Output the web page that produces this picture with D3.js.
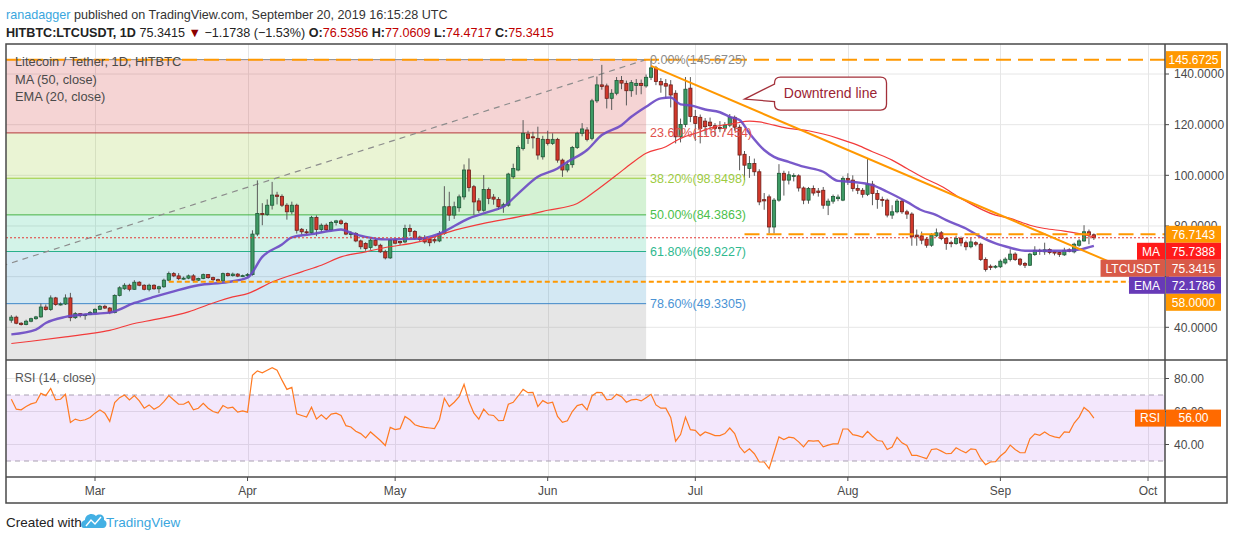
<!DOCTYPE html>
<html>
<head>
<meta charset="utf-8">
<script src="https://cdn.jsdelivr.net/npm/d3@7"></script>
<style>
  body { margin: 0; background: #fff; }
  svg { display: block; font-family: "Liberation Sans", Arial, sans-serif; }
</style>
</head>
<body>
<svg id="chart" width="1234" height="540"></svg>
<script>
// ---- data ----
const firstDay = "2019-02-12";
// daily candles [open, high, low, close], Feb 12 .. Sep 20 2019
const ohlc = [
  // Feb
  [42.8,44.8,41.8,44.0],[44.0,44.6,41.2,41.6],[41.6,42.0,40.7,41.1],[41.1,43.0,40.8,42.4],[42.4,43.8,42.0,43.4],
  [43.4,44.5,43.0,44.1],[44.1,49.4,43.8,48.0],[48.0,49.0,46.6,47.0],[47.0,52.6,46.5,51.6],[51.6,52.0,48.5,49.0],
  [49.0,49.8,48.6,49.2],[49.2,53.0,48.8,51.6],[51.6,53.6,42.4,43.8],[43.8,46.0,43.3,45.4],[45.4,45.6,43.9,44.6],
  [44.6,45.4,43.0,45.0],[45.0,46.4,44.8,45.8],
  // Mar
  [45.8,47.5,45.3,47.1],[47.1,48.8,46.8,48.3],[48.3,48.9,47.2,47.6],[47.6,48.0,45.2,45.8],[45.8,53.0,45.5,52.6],
  [52.6,56.2,52.2,55.6],[55.2,57.4,54.8,56.6],[56.6,57.2,54.2,55.0],[55.0,58.6,54.8,57.8],[57.8,58.2,56.2,56.6],
  [56.6,57.0,54.6,55.0],[55.0,57.2,54.2,56.6],[56.6,57.0,54.8,55.2],[55.2,56.4,53.5,56.0],[56.0,59.2,55.6,58.6],
  [58.6,62.0,58.2,61.2],[61.2,61.8,59.8,60.3],[60.3,61.4,58.6,59.2],[59.2,60.0,58.8,59.4],[59.4,60.8,59.0,60.3],
  [60.3,61.0,57.8,58.6],[58.6,59.6,58.2,59.3],[59.3,61.2,59.0,60.8],[60.8,61.0,59.2,59.6],[59.6,60.0,58.2,58.8],
  [58.8,59.2,57.8,58.3],[58.3,61.6,58.0,61.2],[61.2,61.6,60.0,60.4],[60.4,61.6,60.0,61.0],[61.0,61.4,59.8,60.2],
  [60.2,60.8,59.8,60.4],
  // Apr
  [60.4,61.4,59.8,60.8],[60.8,78.3,60.4,76.8],[76.8,98.0,76.0,84.9],[84.9,89.0,80.3,84.5],[84.5,90.5,84.0,88.2],
  [88.2,97.4,86.5,92.2],[92.2,93.5,88.5,91.7],[91.7,92.5,87.5,88.2],[88.2,89.0,82.5,85.6],[85.6,89.6,84.6,88.2],
  [88.2,88.8,77.0,78.3],[78.7,79.2,76.6,77.7],[77.7,78.8,76.8,77.3],[77.3,84.0,76.8,83.4],[83.4,84.2,76.0,78.6],
  [78.6,81.0,77.6,80.3],[80.3,81.0,78.0,78.5],[78.5,82.0,78.2,81.4],[81.4,82.4,80.2,82.0],[82.0,82.6,80.4,81.0],
  [81.0,81.6,76.4,76.8],[76.8,78.0,75.6,77.0],[77.0,77.6,73.6,74.1],[74.1,74.6,70.8,71.8],[73.1,73.6,70.2,71.1],
  [71.5,75.0,70.6,74.4],[74.4,74.8,72.0,72.4],[72.4,73.0,69.4,69.8],[69.8,70.6,66.8,67.4],[67.4,74.8,67.0,74.4],
  // May
  [74.4,75.0,72.8,73.2],[73.9,74.2,72.4,73.4],[73.7,80.5,73.2,79.0],[79.0,80.6,76.0,77.8],[77.8,78.4,74.6,75.2],
  [75.6,76.2,73.8,74.7],[75.0,76.4,73.0,73.7],[74.8,75.2,72.0,73.4],[74.6,75.2,73.2,74.1],[74.1,78.0,73.6,77.0],
  [77.0,95.7,76.5,87.6],[87.6,93.5,82.0,84.3],[84.3,89.6,82.8,87.6],[87.2,92.4,85.6,91.5],[91.5,104.3,90.4,102.1],
  [102.1,106.7,93.6,95.2],[95.5,96.2,84.3,89.5],[89.9,91.0,85.2,86.2],[86.2,100.1,85.6,94.4],[94.4,95.2,88.6,90.9],
  [91.4,92.6,88.4,90.6],[90.5,91.4,86.4,87.6],[87.6,89.2,85.2,88.4],[88.2,101.0,87.6,100.5],[99.4,104.6,98.6,102.7],
  [102.1,111.8,101.6,111.0],[110.6,121.8,109.8,116.6],[116.3,117.6,112.4,114.6],[115.2,117.2,110.6,115.0],[114.6,119.2,106.2,108.0],
  [107.3,115.6,106.2,114.2],
  // Jun
  [114.2,117.6,111.8,112.6],[112.6,116.6,112.0,114.2],[114.2,114.8,105.0,106.0],[106.0,106.6,99.4,102.1],[102.1,105.8,101.2,104.2],
  [104.2,111.6,103.0,111.0],[111.0,117.2,110.4,116.6],[116.6,120.6,115.4,118.3],[117.9,119.0,113.4,114.2],[114.6,130.2,113.8,129.4],
  [129.4,139.0,128.6,135.7],[135.7,143.6,133.8,135.1],[135.3,136.2,126.4,130.4],[130.4,134.0,125.8,132.4],[132.4,138.8,131.6,137.4],
  [137.4,139.2,134.0,136.4],[136.3,137.4,127.6,133.4],[133.4,137.6,131.0,136.6],[135.5,138.0,131.8,136.3],[136.3,137.8,132.0,135.5],
  [135.3,139.8,134.6,138.7],[138.7,145.67,137.6,142.4],[142.4,143.2,135.6,137.0],[137.0,138.4,132.6,135.7],[136.2,138.0,130.4,135.2],
  [135.7,137.6,126.8,131.7],[132.4,133.6,112.6,115.2],[115.2,122.4,113.0,120.1],[120.1,138.8,119.0,134.0],[134.4,138.8,121.0,123.2],
  // Jul
  [123.2,125.8,113.6,120.5],[122.9,124.0,112.6,118.5],[121.4,122.6,116.0,119.2],[121.0,122.8,117.8,119.6],[119.6,120.6,115.6,118.5],
  [118.9,121.4,117.0,118.4],[118.5,121.0,117.2,119.8],[119.8,124.2,119.0,122.9],[122.9,123.6,117.6,119.0],[119.0,120.0,102.0,108.0],
  [108.3,109.6,98.1,104.0],[102.7,107.6,99.0,104.7],[104.7,106.6,99.8,101.4],[101.4,102.4,88.2,89.5],[90.4,93.0,86.4,89.9],
  [91.5,92.4,77.0,79.6],[79.6,91.0,77.0,90.2],[90.2,104.4,89.6,100.8],[100.8,101.8,92.0,98.1],[98.1,101.6,96.4,100.2],
  [99.8,100.8,97.6,99.9],[99.8,100.4,93.6,95.0],[95.0,95.6,88.6,90.2],[90.2,95.4,88.8,94.8],[94.8,96.0,92.0,93.0],
  [93.8,95.0,91.6,93.2],[94.1,95.4,86.8,88.2],[88.2,90.8,84.3,89.8],[89.8,92.4,88.8,91.6],[90.8,92.4,89.8,91.4],
  [90.2,99.6,89.8,98.8],
  // Aug
  [98.8,100.8,96.2,98.1],[98.1,100.0,93.6,94.8],[94.8,96.4,92.6,94.1],[94.1,95.0,91.2,92.5],[92.5,106.7,91.8,96.5],
  [96.5,97.8,88.2,92.8],[92.8,94.2,86.8,90.5],[90.5,91.6,87.6,90.2],[90.2,90.8,83.4,84.3],[84.3,88.2,82.8,85.6],
  [85.6,90.6,85.0,89.8],[89.8,90.4,84.8,85.6],[85.6,86.4,82.8,84.7],[84.7,85.4,72.2,75.7],[76.4,78.6,72.2,75.8],
  [76.1,77.8,72.8,74.4],[74.8,75.6,71.4,72.4],[72.4,77.2,71.8,76.4],[76.1,79.0,75.6,77.3],[77.3,78.0,74.4,75.1],
  [75.1,75.6,70.6,73.1],[73.4,74.2,71.6,73.1],[73.1,76.2,72.6,75.1],[75.1,75.8,72.0,73.3],[73.4,74.2,70.4,71.8],
  [71.8,75.4,71.2,73.7],[73.4,74.0,72.0,72.8],[72.8,73.4,66.2,66.8],[66.8,67.6,62.0,62.8],[64.1,64.8,62.6,63.6],
  [63.9,64.6,63.2,64.1],
  // Sep
  [63.9,66.8,63.4,66.1],[65.4,67.6,64.8,66.9],[66.8,70.8,66.0,68.9],[68.9,69.6,66.2,66.8],[66.9,67.4,64.2,64.9],
  [65.2,65.8,63.4,64.5],[64.5,69.4,64.2,68.9],[68.7,72.0,68.2,70.4],[70.4,71.0,68.6,70.0],[69.8,73.4,68.6,70.6],
  [70.7,71.2,68.8,69.5],[69.8,70.2,68.4,69.3],[69.5,69.8,67.8,68.8],[68.6,71.4,68.2,70.4],[70.6,71.2,69.6,70.0],
  [69.8,73.4,69.2,72.8],[72.4,74.8,71.8,74.1],[74.1,80.3,73.8,77.7],[77.7,78.6,72.8,76.5356],[76.5356,77.0609,74.4717,75.3415]
];

// RSI(14), one value per candle
const rsi = [
  67.4,61.4,61,63,64.6,65.4,71,69.6,74,67,67.4,70.4,53.4,55.4,54.4,55,56.4,
  59,61,59,54,65.4,68.4,70,67,69.6,66.4,62,64,61.4,63,66,69.6,67,64.4,64.4,66,61,62,65,62,60,59,63.6,62,62.6,59.6,60.4,
  59.6,82,84.6,83.4,85,86.6,85,79,73.4,74.6,58.6,57.6,56.6,62.6,55.4,58,55.4,58.4,59,57.6,51.4,50.6,48,46.6,44,47.6,45,42.4,39.4,50.4,
  49,49.6,57,55,52,51,50.4,50,49.6,55,68,63,65.6,69,76.4,66,59,55.4,61.4,58,57.6,54.4,54.6,64.4,65.6,69.4,73.4,71.4,71.6,63,66.6,
  65,65.6,57,53.4,54.4,60,63.6,64.4,61,69.4,71.6,71.4,67,67.4,70.4,69,65.6,67,67.4,66.4,68.4,70.4,64,62,62,56.4,42,46,56.6,49,
  48.6,45.4,47.6,46.6,45.4,45.4,46.6,50,46.6,38.6,35,37.4,34.4,29.4,29.4,25.4,35,44.6,43,44.4,44,41.6,38.6,42.4,42,42.4,38.6,39.6,40.4,40.4,49.4,
  49.4,46,45.4,44.4,48,45,42.4,42,37,38.4,44.4,41,39.4,33.4,33.4,32.4,31.4,37,37.4,36,34.4,34.6,38,36.4,35,37.4,37,31.4,27.8,29.4,29.6,
  33,35.4,39.6,37,35,35,43.4,46.4,45.6,47.6,45.6,44.6,44,47.6,47.4,53,56.6,62.4,60,56
];

// MA(50) and EMA(20) sampled along the drawn lines
const ma50 = [
  ["2019-02-12",33.6],["2019-02-16",34.5],["2019-02-23",36.2],["2019-02-28",37.5],["2019-03-04",38.8],["2019-03-09",41.5],
  ["2019-03-13",43.0],["2019-03-20",46.1],["2019-03-25",49.6],["2019-03-29",52.0],["2019-04-01",53.3],["2019-04-06",57.9],
  ["2019-04-12",61.9],["2019-04-16",64.5],["2019-04-20",67.8],["2019-04-25",69.8],["2019-04-29",71.5],["2019-05-06",73.8],
  ["2019-05-12",77.7],["2019-05-19",81.0],["2019-05-26",83.6],["2019-06-01",86.2],["2019-06-07",88.9],["2019-06-11",94.2],
  ["2019-06-15",100.1],["2019-06-18",104.7],["2019-06-21",108.7],["2019-06-25",111.3],["2019-06-28",114.6],["2019-07-02",117.2],
  ["2019-07-05",119.2],["2019-07-09",120.5],["2019-07-12",121.4],["2019-07-14",121.1],["2019-07-17",119.8],["2019-07-20",118.5],
  ["2019-07-24",117.6],["2019-07-27",116.3],["2019-07-30",114.6],["2019-08-03",111.9],["2019-08-06",109.3],["2019-08-10",106.0],
  ["2019-08-13",102.7],["2019-08-16",99.4],["2019-08-20",95.7],["2019-08-24",90.9],["2019-08-31",84.3],["2019-09-03",83.0],
  ["2019-09-07",80.3],["2019-09-10",79.0],["2019-09-14",78.0],["2019-09-17",77.0],["2019-09-20",75.7388]
];
const ema20 = [
  ["2019-02-12",37.2],["2019-02-17",39.1],["2019-02-19",41.7],["2019-02-23",44.1],["2019-02-27",45.1],["2019-03-04",45.8],
  ["2019-03-09",49.6],["2019-03-13",52.0],["2019-03-17",54.2],["2019-03-22",56.6],["2019-03-28",57.9],["2019-04-01",59.6],
  ["2019-04-04",67.8],["2019-04-08",72.7],["2019-04-10",75.5],["2019-04-14",76.8],["2019-04-18",78.1],["2019-04-20",78.6],
  ["2019-04-22",77.3],["2019-04-25",75.7],["2019-04-29",74.7],["2019-05-02",74.8],["2019-05-06",75.0],["2019-05-10",77.0],
  ["2019-05-16",83.0],["2019-05-21",86.2],["2019-05-23",87.6],["2019-05-26",92.8],["2019-05-30",99.4],["2019-06-03",102.7],
  ["2019-06-05",105.3],["2019-06-09",110.0],["2019-06-12",115.9],["2019-06-16",119.8],["2019-06-18",123.1],["2019-06-21",127.1],
  ["2019-06-24",130.4],["2019-06-26",130.7],["2019-06-28",128.0],["2019-06-30",127.6],["2019-07-03",126.0],["2019-07-06",124.9],
  ["2019-07-08",123.1],["2019-07-10",121.8],["2019-07-12",116.6],["2019-07-15",110.0],["2019-07-17",107.3],["2019-07-20",105.3],
  ["2019-07-23",103.4],["2019-07-27",101.4],["2019-07-30",97.8],["2019-08-02",97.4],["2019-08-06",96.1],["2019-08-09",93.5],
  ["2019-08-13",89.5],["2019-08-16",86.2],["2019-08-19",84.3],["2019-08-21",82.3],["2019-08-25",79.0],["2019-08-28",75.7],
  ["2019-08-31",73.1],["2019-09-03",71.4],["2019-09-06",70.2],["2019-09-10",70.2],["2019-09-14",70.2],["2019-09-17",70.7],
  ["2019-09-20",72.1786]
];

// Fibonacci retracement
const fibLevels = [0, 0.236, 0.382, 0.5, 0.618, 0.786, 1];
const fibPrices = [145.6725, 116.7454, 98.8498, 84.3863, 69.9227, 49.3305, 23.10];
const fibAnchors = [["2018-12-06", 23.10], ["2019-06-21", 145.6725]];
const fibLineColors = ["#8a8a8a", "#b3383a", "#9ccc3a", "#46b246", "#29b08b", "#3f88c8", "#8a8a8a"];
const fibTextColors = ["#8c8c8c", "#e0504c", "#9dcb3f", "#4cbf4c", "#2fb98f", "#4a93d4", "#8c8c8c"];
const fibFills = ["rgba(205,40,40,0.2)", "rgba(150,200,40,0.2)", "rgba(40,190,40,0.2)",
                  "rgba(35,195,140,0.2)", "rgba(35,140,195,0.2)", "rgba(130,130,130,0.2)"];

// drawings
const downtrend = [["2019-06-22", 143.2], ["2019-09-23", 66.0]];
const levelLines = [
  { from: "2019-01-01", price: 145.6725, dash: "15,7" },
  { from: "2019-07-11", price: 76.7143, dash: "15,7" },
  { from: "2019-03-16", price: 58.0, dash: "5,3" }
];
const callout = { date: "2019-07-11", price: 130.1, text: "Downtrend line" };

// axes
const priceTicks = [140, 120, 100, 80, 60, 40];
const priceLabels = [140, 120, 100, 80, 40];   // 60 sits fully under the badges
const rsiTicks = [80, 60, 40];
const rsiBand = [70, 30];
const monthTicks = ["2019-03-01","2019-04-01","2019-05-01","2019-06-01","2019-07-01","2019-08-01","2019-09-01","2019-10-01"];
const monthNames = ["Mar","Apr","May","Jun","Jul","Aug","Sep","Oct"];

// right-scale badges
const badges = [
  { value: 145.6725, text: "145.6725", color: "#ff9800" },
  { value: 76.7143, text: "76.7143", color: "#ff9800" },
  { value: 75.7388, text: "75.7388", color: "#ff1a1a", tag: "MA" },
  { value: 75.3415, text: "75.3415", color: "#d85a48", tag: "LTCUSDT" },
  { value: 72.1786, text: "72.1786", color: "#673ab7", tag: "EMA" },
  { value: 58.0, text: "58.0000", color: "#ff9800" }
];
const lastClose = 75.3415;
const lastRsi = 56.0;

// ---- layout ----
const L = 6, R = 1165, AX = 1227, T = 44, MB = 360, RB = 477, B = 503;
const parse = d3.utcParse("%Y-%m-%d");
const fmt4 = d3.format(".4f");

const svg = d3.select("#chart");
const x = d3.scaleUtc().domain([parse("2019-03-01"), parse("2019-10-01")]).range([95, 1148]);
const y = d3.scaleLinear().domain([40, 140]).range([327.3, 74]);
const yr = d3.scaleLinear().domain([40, 80]).range([444.5, 378.5]);
const days = ohlc.map((d, i) => d3.utcDay.offset(parse(firstDay), i));

const defs = svg.append("defs");
defs.append("clipPath").attr("id", "clipMain").append("rect").attr("x", L).attr("y", T).attr("width", R - L).attr("height", MB - T);
defs.append("clipPath").attr("id", "clipRsi").append("rect").attr("x", L).attr("y", MB).attr("width", R - L).attr("height", RB - MB);

// header
const h1 = svg.append("text").attr("x", 6).attr("y", 19).attr("font-size", 12.6).attr("fill", "#333");
h1.append("tspan").attr("fill", "#3aa6de").text("ranadagger");
h1.append("tspan").text(" published on TradingView.com, September 20, 2019 16:15:28 UTC");
const h2 = svg.append("text").attr("x", 6).attr("y", 37).attr("font-size", 12.6).attr("fill", "#222");
h2.append("tspan").attr("font-weight", "bold").text("HITBTC:LTCUSDT, 1D");
h2.append("tspan").text(" 75.3415 ");
h2.append("tspan").attr("fill", "#8b0000").text("\u25BC");
h2.append("tspan").text(" \u22121.1738 (\u22121.53%) ");
[["O:", "76.5356"], [" H:", "77.0609"], [" L:", "74.4717"], [" C:", "75.3415"]].forEach(p => {
  h2.append("tspan").attr("font-weight", "bold").text(p[0]);
  h2.append("tspan").attr("fill", "#c00000").text(p[1]);
});

// grid
const grid = svg.append("g").attr("stroke", "#e6e6e6").attr("stroke-width", 1);
monthTicks.forEach(m => {
  const gx = Math.round(x(parse(m))) + 0.5;
  grid.append("line").attr("x1", gx).attr("x2", gx).attr("y1", T).attr("y2", RB);
});
priceTicks.forEach(p => grid.append("line").attr("x1", L).attr("x2", R).attr("y1", y(p)).attr("y2", y(p)));
rsiTicks.forEach(p => grid.append("line").attr("x1", L).attr("x2", R).attr("y1", yr(p)).attr("y2", yr(p)));

// fib retracement
const main = svg.append("g").attr("clip-path", "url(#clipMain)");
const fx0 = x(parse(fibAnchors[0][0])), fx1 = x(parse(fibAnchors[1][0]));
for (let i = 0; i < fibLevels.length - 1; i++) {
  main.append("rect").attr("x", fx0).attr("width", fx1 - fx0)
    .attr("y", y(fibPrices[i])).attr("height", y(fibPrices[i + 1]) - y(fibPrices[i]))
    .attr("fill", fibFills[i]);
}
fibLevels.forEach((lv, i) => {
  main.append("line").attr("x1", fx0).attr("x2", fx1).attr("y1", y(fibPrices[i])).attr("y2", y(fibPrices[i]))
    .attr("stroke", fibLineColors[i]).attr("stroke-width", 1);
});
main.append("line").attr("x1", fx0).attr("y1", y(fibAnchors[0][1])).attr("x2", fx1).attr("y2", y(fibAnchors[1][1]))
  .attr("stroke", "#8c8c8c").attr("stroke-width", 1.2).attr("stroke-dasharray", "6,5");

// legend
const leg = svg.append("g").attr("font-size", 12.8).attr("fill", "#4a4a4a");
leg.append("text").attr("x", 15).attr("y", 66).text("Litecoin / Tether, 1D, HITBTC");
leg.append("text").attr("x", 15).attr("y", 84).text("MA (50, close)");
leg.append("text").attr("x", 15).attr("y", 101).text("EMA (20, close)");

// candles
const cg = main.append("g");
ohlc.forEach((d, i) => {
  const cx = x(days[i]);
  const up = d[3] >= d[0];
  cg.append("line").attr("x1", cx).attr("x2", cx).attr("y1", y(d[1])).attr("y2", y(d[2]))
    .attr("stroke", "#5a5a5a").attr("stroke-width", 1);
  const top = y(Math.max(d[0], d[3])), bot = y(Math.min(d[0], d[3]));
  cg.append("rect").attr("x", cx - 1.6).attr("width", 3.2)
    .attr("y", top).attr("height", Math.max(1, bot - top))
    .attr("fill", up ? "#3d9a64" : "#d2382b")
    .attr("stroke", up ? "#1f5a37" : "#6e1f1a").attr("stroke-width", 0.8);
});

// moving averages
const lineGen = d3.line().x(d => x(parse(d[0]))).y(d => y(d[1])).curve(d3.curveMonotoneX);
main.append("path").attr("d", lineGen(ma50)).attr("fill", "none").attr("stroke", "#f23b3b").attr("stroke-width", 1.2);
main.append("path").attr("d", lineGen(ema20)).attr("fill", "none").attr("stroke", "#6a48c4").attr("stroke-width", 2.4).attr("stroke-opacity", 0.9);

// current price line
main.append("line").attr("x1", L).attr("x2", R).attr("y1", y(lastClose)).attr("y2", y(lastClose))
  .attr("stroke", "#e53935").attr("stroke-width", 1).attr("stroke-dasharray", "2,2");

// horizontal levels
levelLines.forEach(lv => {
  main.append("line").attr("x1", Math.max(L, x(parse(lv.from)))).attr("x2", R)
    .attr("y1", y(lv.price)).attr("y2", y(lv.price))
    .attr("stroke", "#ff9800").attr("stroke-width", 2).attr("stroke-dasharray", lv.dash);
});

// downtrend line
main.append("line")
  .attr("x1", x(parse(downtrend[0][0]))).attr("y1", y(downtrend[0][1]))
  .attr("x2", x(parse(downtrend[1][0]))).attr("y2", y(downtrend[1][1]))
  .attr("stroke", "#ff9800").attr("stroke-width", 2);

// fib labels
fibLevels.forEach((lv, i) => {
  if (fibPrices[i] < 40) return;
  svg.append("text").attr("x", fx1 + 4).attr("y", y(fibPrices[i])).attr("dy", "0.35em")
    .attr("font-size", 12.5).attr("fill", fibTextColors[i])
    .text(d3.format(".2f")(lv * 100) + "%(" + fmt4(fibPrices[i]) + ")");
});

// callout
{
  const ax = x(parse(callout.date)), ay = y(callout.price);
  const bl = ax + 30, br = ax + 142, bt = ay - 22, bb = ay + 11, r = 6;
  const p = `M${bl + r},${bt} H${br - r} Q${br},${bt} ${br},${bt + r} V${bb - r} Q${br},${bb} ${br - r},${bb} H${bl + r} Q${bl},${bb} ${bl},${bb - r} V${ay + 2.5} L${ax},${ay} L${bl},${ay - 15} V${bt + r} Q${bl},${bt} ${bl + r},${bt} Z`;
  svg.append("path").attr("d", p).attr("fill", "#fff").attr("stroke", "#a3303a").attr("stroke-width", 1.3);
  svg.append("text").attr("x", (bl + br) / 2).attr("y", (bt + bb) / 2).attr("dy", "0.35em")
    .attr("text-anchor", "middle").attr("font-size", 14).attr("fill", "#9b2333").text(callout.text);
}

// RSI pane
const rsiG = svg.append("g").attr("clip-path", "url(#clipRsi)");
rsiG.append("rect").attr("x", L).attr("width", R - L).attr("y", yr(rsiBand[0])).attr("height", yr(rsiBand[1]) - yr(rsiBand[0]))
  .attr("fill", "rgba(155,60,230,0.12)");
rsiBand.forEach(v => rsiG.append("line").attr("x1", L).attr("x2", R).attr("y1", yr(v)).attr("y2", yr(v))
  .attr("stroke", "#a9a0b2").attr("stroke-width", 1).attr("stroke-dasharray", "5,4"));
rsiG.append("path").datum(rsi)
  .attr("d", d3.line().x((d, i) => x(days[i])).y(d => yr(d)))
  .attr("fill", "none").attr("stroke", "#ff7a22").attr("stroke-width", 1.2);
svg.append("text").attr("x", 15).attr("y", 382).attr("font-size", 12.2).attr("fill", "#555").text("RSI (14, close)");

// frame
const fr = svg.append("g").attr("stroke", "#4a4a4a").attr("stroke-width", 1.5).attr("fill", "none");
fr.append("rect").attr("x", L).attr("y", T).attr("width", AX - L).attr("height", B - T);
fr.append("line").attr("x1", R).attr("x2", R).attr("y1", T).attr("y2", B);
fr.append("line").attr("x1", L).attr("x2", AX).attr("y1", MB).attr("y2", MB);
fr.append("line").attr("x1", L).attr("x2", AX).attr("y1", RB).attr("y2", RB);

// price axis
const pa = svg.append("g").attr("font-size", 12).attr("fill", "#4a4a4a");
priceTicks.forEach(p => {
  pa.append("line").attr("x1", R).attr("x2", R + 4).attr("y1", y(p)).attr("y2", y(p)).attr("stroke", "#4a4a4a");
});
priceLabels.forEach(p => {
  pa.append("text").attr("x", R + 9).attr("y", y(p)).attr("dy", "0.35em").text(fmt4(p));
});
rsiTicks.forEach(p => {
  pa.append("line").attr("x1", R).attr("x2", R + 4).attr("y1", yr(p)).attr("y2", yr(p)).attr("stroke", "#4a4a4a");
  pa.append("text").attr("x", R + 9).attr("y", yr(p)).attr("dy", "0.35em").text(d3.format(".2f")(p));
});

// time axis
monthTicks.forEach((m, i) => {
  const tx = x(parse(m));
  svg.append("line").attr("x1", tx).attr("x2", tx).attr("y1", RB).attr("y2", RB + 4).attr("stroke", "#4a4a4a");
  svg.append("text").attr("x", tx).attr("y", 495).attr("text-anchor", "middle").attr("font-size", 12)
    .attr("fill", "#4a4a4a").text(monthNames[i]);
});

// badges (stacked so they do not overlap)
const bh = 17;
const placed = badges.map(b => Object.assign({}, b, { cy: y(b.value) })).sort((a, b) => a.cy - b.cy);
for (let i = 1; i < placed.length; i++) {
  if (placed[i].cy < placed[i - 1].cy + bh) placed[i].cy = placed[i - 1].cy + bh;
}
function badge(cy, color, text, tag) {
  svg.append("rect").attr("x", R + 1).attr("y", cy - bh / 2).attr("width", 55).attr("height", bh).attr("fill", color);
  svg.append("text").attr("x", R + 28.5).attr("y", cy).attr("dy", "0.36em").attr("text-anchor", "middle")
    .attr("font-size", 12).attr("fill", "#fff").text(text);
  if (tag) {
    const tg = svg.append("g");
    const rect = tg.append("rect").attr("y", cy - bh / 2).attr("height", bh).attr("fill", color);
    const t = tg.append("text").attr("x", R - 5).attr("y", cy).attr("dy", "0.36em").attr("text-anchor", "end")
      .attr("font-size", 12).attr("fill", "#fff").text(tag);
    const tw = t.node().getComputedTextLength() + 10;
    rect.attr("x", R - tw).attr("width", tw);
  }
}
placed.forEach(b => badge(b.cy, b.color, b.text, b.tag));
badge(yr(lastRsi), "#ff6a00", d3.format(".2f")(lastRsi), "RSI");

// footer
const ft = svg.append("g");
ft.append("text").attr("x", 6).attr("y", 527).attr("font-size", 13.5).attr("fill", "#222").text("Created with");
ft.append("path")
  .attr("d", "M84,528 C80,528 80,521 85,520 C85,514 93,512 96,516 C99,513 105,515 104,520 C108,521 107,528 103,528 Z")
  .attr("fill", "#43b0e4");
ft.append("path").attr("d", "M86,526 L91,520 L95,524 L101,517").attr("fill", "none").attr("stroke", "#fff").attr("stroke-width", 1.4);
ft.append("text").attr("x", 106).attr("y", 527).attr("font-size", 13.5).attr("fill", "#3aa6de").text("TradingView");
</script>
</body>
</html>
